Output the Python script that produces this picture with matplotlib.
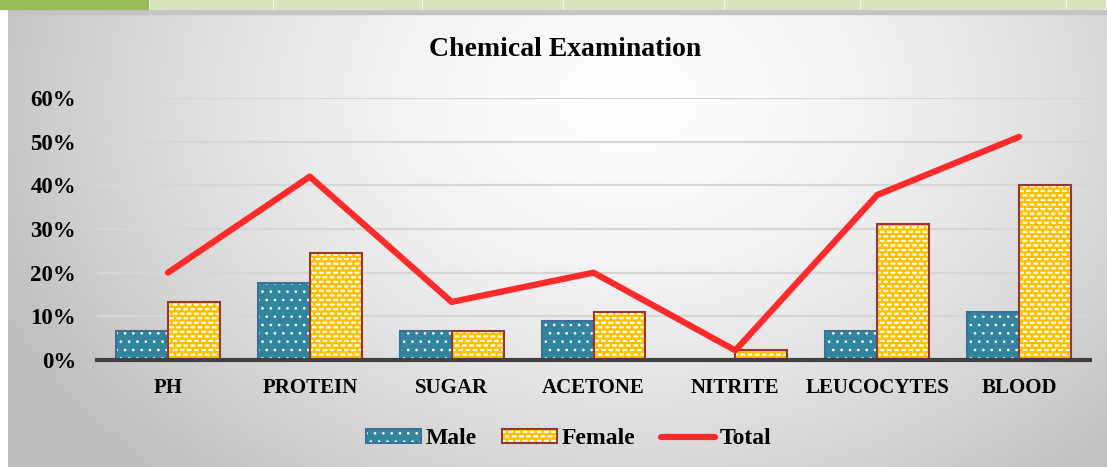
import numpy as np
import matplotlib
matplotlib.use("Agg")
import matplotlib.pyplot as plt
import matplotlib.hatch as mhatch
from matplotlib.path import Path
from matplotlib.patches import Patch, Rectangle
from matplotlib.lines import Line2D
from matplotlib.legend_handler import HandlerTuple
from matplotlib.ticker import PercentFormatter

categories = ["PH", "PROTEIN", "SUGAR", "ACETONE", "NITRITE", "LEUCOCYTES", "BLOOD"]
male = [6.7, 17.6, 6.7, 8.9, 0.0, 6.7, 11.1]
female = [13.3, 24.4, 6.7, 11.1, 2.2, 31.1, 40.0]
total = [20.0, 42.0, 13.3, 20.0, 2.2, 37.8, 51.1]


# brick-like white dashes for the female bars (takes over the '*' hatch)
class Bricks(mhatch.HatchPatternBase):
    rows = 22
    cols = 14

    def __init__(self, hatch, density):
        self.n = hatch.count('*')
        if self.n == 0:
            self.num_vertices = 0
        else:
            self.num_vertices = (self.rows + 1) * (self.cols + 2) * 5

    def set_vertices_and_codes(self, vertices, codes):
        w, h = 0.018, 0.006
        rect = np.array([[-w, -h], [w, -h], [w, h], [-w, h], [-w, -h]])
        rc = [Path.MOVETO, Path.LINETO, Path.LINETO, Path.LINETO, Path.CLOSEPOLY]
        i = 0
        for r in range(self.rows + 1):
            shift = 0.5 / self.cols if r % 2 else 0.0
            for c in range(self.cols + 2):
                x = c / self.cols + shift - 1.0 / self.cols
                y = r / self.rows
                vertices[i:i + 5] = rect + [x, y]
                codes[i:i + 5] = rc
                i += 5


mhatch._hatch_types = [Bricks if t is mhatch.Stars else t for t in mhatch._hatch_types]
plt.rcParams['hatch.linewidth'] = 0.7

plt.rcParams['font.family'] = ['Liberation Serif', 'DejaVu Serif']
plt.rcParams['font.weight'] = 'bold'

fig = plt.figure(figsize=(11.07, 4.67), dpi=100)
fig.patch.set_facecolor('white')

# gradient backdrop
bg = fig.add_axes([8 / 1107, 0, 1 - 8 / 1107, 457 / 467], zorder=-5)
yy, xx = np.mgrid[0:457, 0:1099]
d = np.sqrt(((xx - 620) / 700.0) ** 2 + ((yy - 90) / 520.0) ** 2)
g = 1.0 - 0.26 * np.clip(d, 0, 1) ** 1.5
bg.imshow(np.dstack([g, g, g]), aspect='auto', extent=[0, 1, 0, 1])
bg.add_patch(Rectangle((0, 0.992), 1, 0.008, color='#C4C4C4', transform=bg.transAxes))
bg.axis('off')

# green tab strip on top
edges = [0, 150, 274, 423, 564, 725, 861, 1067, 1107]
for k in range(len(edges) - 1):
    col = '#9BBB59' if k == 0 else '#D7E4BD'
    fig.patches.append(Rectangle((edges[k] / 1107, 1 - 9 / 467),
                                 (edges[k + 1] - edges[k] - 2) / 1107, 9 / 467,
                                 color=col, transform=fig.transFigure, figure=fig))

ax = fig.add_axes([97 / 1107, 107 / 467, 993 / 1107, 262 / 467])
ax.set_facecolor('none')

x = np.arange(len(categories))
bw = 0.366
m_col, m_edge = '#31859C', '#3E6F9A'
f_col, f_edge = '#FFC000', '#953735'

ax.bar(x, male, width=-bw, align='edge', color=m_col, edgecolor='white',
       hatch='..', linewidth=0, zorder=3)
ax.bar(x, male, width=-bw, align='edge', fill=False, edgecolor=m_edge,
       linewidth=1.5, zorder=4)
ax.bar(x, female, width=bw, align='edge', color=f_col, edgecolor='white',
       hatch='*', linewidth=0, zorder=3)
ax.bar(x, female, width=bw, align='edge', fill=False, edgecolor=f_edge,
       linewidth=1.5, zorder=4)
ax.plot(x, total, color='#FF2A2A', linewidth=4.5, solid_capstyle='round',
        solid_joinstyle='round', zorder=5)

ax.set_xlim(-0.5, len(categories) - 0.5)
ax.set_ylim(0, 60)
ax.set_yticks(np.arange(0, 61, 10))
ax.yaxis.set_major_formatter(PercentFormatter(decimals=0))
ax.set_xticks(x)
ax.set_xticklabels(categories)
ax.tick_params(axis='y', length=0, pad=15, labelsize=16.5)
ax.tick_params(axis='x', length=0, pad=13, labelsize=15)
ax.grid(axis='y', color='#D6D6D6', linewidth=1.6, zorder=0)
for s in ['top', 'right', 'left']:
    ax.spines[s].set_visible(False)
ax.spines['bottom'].set_color('#404040')
ax.spines['bottom'].set_linewidth(3)
ax.spines['bottom'].set_zorder(6)

fig.text(565 / 1107, 1 - 49 / 467, "Chemical Examination", ha='center', va='center',
         fontsize=20, fontweight='bold')

h_m = (Patch(facecolor=m_col, edgecolor='white', hatch='..', linewidth=0),
       Patch(fill=False, edgecolor=m_edge, linewidth=1.5))
h_f = (Patch(facecolor=f_col, edgecolor='white', hatch='*', linewidth=0),
       Patch(fill=False, edgecolor=f_edge, linewidth=1.5))
h_t = Line2D([], [], color='#FF2A2A', linewidth=4.5, solid_capstyle='round')
fig.legend([h_m, h_f, h_t], ["Male", "Female", "Total"], ncol=3,
           loc='center', bbox_to_anchor=(569 / 1107, 1 - 439 / 467), frameon=False,
           fontsize=17, handlelength=2.3, handleheight=0.55, handletextpad=0.2,
           columnspacing=1.1, handler_map={tuple: HandlerTuple(ndivide=1, pad=0)})

fig.savefig("out.png", dpi=100)
